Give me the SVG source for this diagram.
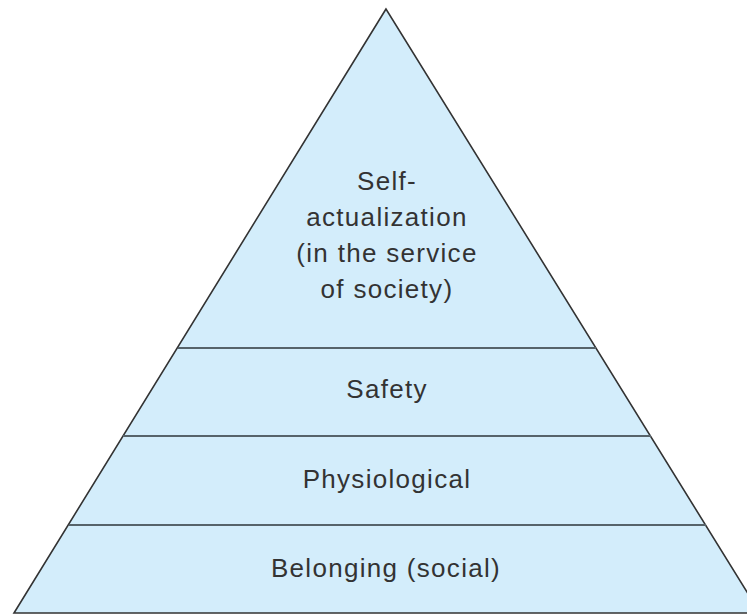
<svg xmlns="http://www.w3.org/2000/svg" width="747" height="614" viewBox="0 0 747 614">
<style>
.lbl{font-family:"Liberation Sans",Arial,sans-serif;font-size:26px;fill:#333333;text-anchor:middle;letter-spacing:1.3px}
.div{stroke:#56636a;stroke-width:2;fill:none}
</style>
<rect width="747" height="614" fill="#ffffff"/>
<g id="pyramid">
<polygon points="386,9 14,613 760,613" fill="#d3edfb" stroke="#333333" stroke-width="1.6" stroke-linejoin="miter"/>
</g>
<g id="connectors">
<line class="div" x1="178" y1="348" x2="596" y2="348"/>
<line class="div" x1="123" y1="436" x2="651" y2="436"/>
<line class="div" x1="69" y1="525" x2="706" y2="525"/>
</g>
<g id="self-actualization">
<text class="lbl" x="387" y="190">Self-</text>
<text class="lbl" x="387" y="226">actualization</text>
<text class="lbl" x="387" y="262">(in the service</text>
<text class="lbl" x="387" y="298">of society)</text>
</g>
<g id="safety">
<text class="lbl" x="387" y="398">Safety</text>
</g>
<g id="physiological">
<text class="lbl" x="387" y="488">Physiological</text>
</g>
<g id="belonging">
<text class="lbl" x="386" y="577">Belonging (social)</text>
</g>
</svg>
